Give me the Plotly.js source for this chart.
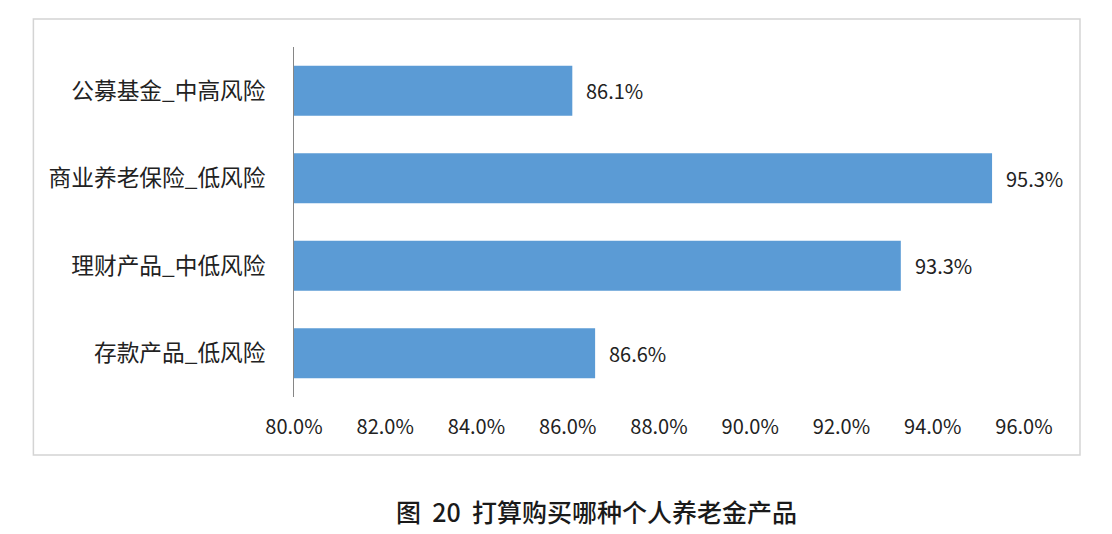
<!DOCTYPE html>
<html>
<head>
<meta charset="utf-8">
<script src="https://cdn.plot.ly/plotly-3.0.1.min.js"></script>
<style>
  html, body { margin: 0; padding: 0; background: #fff; }
  #plot { width: 1112px; height: 534px; }
</style>
</head>
<body>
<div id="plot"></div>
<script>
// products, top to bottom
var products = ["公募基金_中高风险", "商业养老保险_低风险", "理财产品_中低风险", "存款产品_低风险"];
var shares = [86.1, 95.3, 93.3, 86.6];
var tickValues = [80, 82, 84, 86, 88, 90, 92, 94, 96];
var caption = "图  20  打算购买哪种个人养老金产品";

var cjk = '"Noto Sans CJK SC", "Noto Sans", sans-serif';

var trace = {
  type: "bar",
  orientation: "h",
  y: products,
  x: shares,
  marker: { color: "#5b9bd5" },
  hoverinfo: "x+y"
};

// value labels to the right of each bar
var labels = products.map(function (p, i) {
  return {
    x: shares[i], y: p, xref: "x", yref: "y",
    text: shares[i].toFixed(1) + "%",
    showarrow: false, xanchor: "left", xshift: 12,
    font: { family: cjk, size: 20, color: "#222" }
  };
});

labels.push({
  x: 0.415, y: -0.326, xref: "paper", yref: "paper",
  xanchor: "center", yanchor: "middle",
  text: caption, showarrow: false,
  font: { family: cjk, size: 25, color: "#1a1a1a", weight: 500 }
});

var layout = {
  width: 1112,
  height: 534,
  margin: { l: 294, r: 88, t: 47, b: 137 },
  paper_bgcolor: "#fff",
  plot_bgcolor: "#fff",
  showlegend: false,
  bargap: 0.43,
  font: { family: cjk, color: "#222" },
  xaxis: {
    range: [80, 96],
    tickvals: tickValues,
    ticktext: tickValues.map(function (v) { return v.toFixed(1) + "%"; }),
    showgrid: false,
    zeroline: false,
    showline: false,
    ticks: "",
    ticklabelstandoff: 16,
    tickfont: { family: cjk, size: 20, color: "#222" }
  },
  yaxis: {
    autorange: "reversed",
    showgrid: false,
    zeroline: false,
    showline: true,
    linecolor: "#868686",
    linewidth: 1,
    ticks: "",
    ticklabelstandoff: 23,
    tickfont: { family: cjk, size: 22.7, color: "#222" }
  },
  shapes: [{
    type: "rect", xref: "paper", yref: "paper",
    x0: -0.357, x1: 1.0767, y0: -0.166, y1: 1.08,
    line: { color: "#d4d4d4", width: 1.5 },
    fillcolor: "rgba(0,0,0,0)"
  }],
  annotations: labels
};

Plotly.newPlot("plot", [trace], layout, { displayModeBar: false, staticPlot: true });
</script>
</body>
</html>
